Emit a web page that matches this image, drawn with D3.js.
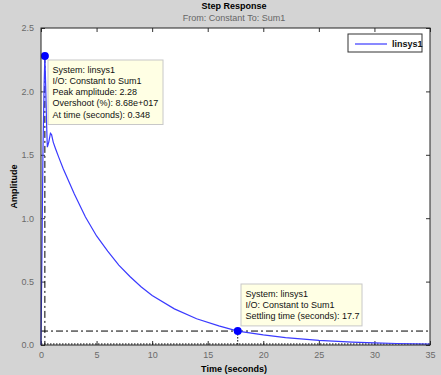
<!DOCTYPE html>
<html>
<head>
<meta charset="utf-8">
<script src="https://cdn.jsdelivr.net/npm/d3@7"></script>
<style>
  body { margin: 0; background: #d4d4d4; }
  svg { display: block; font-family: Arial, "Liberation Sans", sans-serif; }
</style>
</head>
<body>
<div id="chart"></div>
<script>
// Step response samples (time in s, amplitude)
const times = [0, 0.08, 0.18, 0.28, 0.348, 0.42, 0.5, 0.57, 0.7, 0.85, 0.95, 1.1, 1.3, 1.6, 2, 3, 4, 5, 6, 7, 8, 9, 10, 12, 14, 16, 17.7, 20, 22, 25, 28, 30, 32, 35];
const amplitude = [0, 0.7, 1.55, 2.05, 2.28, 2.05, 1.75, 1.56, 1.6, 1.67, 1.66, 1.6, 1.55, 1.48, 1.39, 1.19, 1.01, 0.86, 0.74, 0.63, 0.54, 0.46, 0.39, 0.285, 0.207, 0.151, 0.11, 0.08, 0.058, 0.036, 0.022, 0.016, 0.012, 0.007];
const xTicks = [0, 5, 10, 15, 20, 25, 30, 35];
const yTicks = [0, 0.5, 1, 1.5, 2, 2.5];
const peak = { time: 0.348, value: 2.28 };
const settle = { time: 17.7, value: 0.11 };
const peakLines = ["System: linsys1", "I/O: Constant to Sum1", "Peak amplitude: 2.28", "Overshoot (%): 8.68e+017", "At time (seconds): 0.348"];
const settleLines = ["System: linsys1", "I/O: Constant to Sum1", "Settling time (seconds): 17.7"];

const svgWidth = 441;
const svgHeight = 375;
const margin = { top: 28, right: 11, bottom: 30, left: 41 };
const chartWidth = svgWidth - margin.left - margin.right;
const chartHeight = svgHeight - margin.top - margin.bottom;

const svg = d3.select("#chart")
  .append("svg")
  .attr("width", svgWidth)
  .attr("height", svgHeight);

svg.append("rect")
  .attr("width", svgWidth)
  .attr("height", svgHeight)
  .attr("fill", "#d4d4d4");

const chart = svg.append("g")
  .attr("transform", `translate(${margin.left}, ${margin.top})`);

const xScale = d3.scaleLinear().domain([0, 35]).range([0, chartWidth]);
const yScale = d3.scaleLinear().domain([0, 2.5]).range([chartHeight, 0]);

// plot area
chart.append("rect")
  .attr("width", chartWidth)
  .attr("height", chartHeight)
  .attr("fill", "#fff");

// ticks on all four sides, pointing in
function styleAxis(g) {
  g.select(".domain").remove();
  g.selectAll(".tick line").attr("stroke", "#333");
  g.selectAll(".tick text").attr("fill", "#6a6a6a").attr("font-size", 9);
}
chart.append("g")
  .attr("transform", `translate(0, ${chartHeight})`)
  .call(d3.axisBottom(xScale).tickValues(xTicks).tickSize(-4).tickPadding(7))
  .call(styleAxis);
chart.append("g")
  .call(d3.axisTop(xScale).tickValues(xTicks).tickSize(-4).tickFormat(""))
  .call(styleAxis);
chart.append("g")
  .call(d3.axisLeft(yScale).tickValues(yTicks).tickSize(-4).tickPadding(7))
  .call(styleAxis);
chart.append("g")
  .attr("transform", `translate(${chartWidth}, 0)`)
  .call(d3.axisRight(yScale).tickValues(yTicks).tickSize(-4).tickFormat(""))
  .call(styleAxis);

// characteristic lines
chart.append("line")
  .attr("x1", 0).attr("x2", chartWidth)
  .attr("y1", yScale(0) - 1).attr("y2", yScale(0) - 1)
  .attr("stroke", "#000").attr("stroke-dasharray", "1.5,1.5");
chart.append("line")
  .attr("x1", 0).attr("x2", chartWidth)
  .attr("y1", yScale(settle.value)).attr("y2", yScale(settle.value))
  .attr("stroke", "#000").attr("stroke-dasharray", "7,3,2,3");
chart.append("line")
  .attr("x1", xScale(peak.time)).attr("x2", xScale(peak.time))
  .attr("y1", yScale(peak.value)).attr("y2", chartHeight)
  .attr("stroke", "#000").attr("stroke-dasharray", "7,3,2,3");
chart.append("line")
  .attr("x1", xScale(settle.time)).attr("x2", xScale(settle.time))
  .attr("y1", yScale(settle.value)).attr("y2", chartHeight)
  .attr("stroke", "#000").attr("stroke-dasharray", "1.5,1.5");

// response curve
const data = times.map((t, i) => ({ t, v: amplitude[i] }));
const line = d3.line()
  .x(d => xScale(d.t))
  .y(d => yScale(d.v));
chart.append("path")
  .datum(data)
  .attr("fill", "none")
  .attr("stroke", "#3a3aff")
  .attr("stroke-width", 1.2)
  .attr("d", line);

// markers
[peak, settle].forEach(p => {
  chart.append("circle")
    .attr("cx", xScale(p.time))
    .attr("cy", yScale(p.value))
    .attr("r", 4)
    .attr("fill", "#0000ff");
});

// frame
chart.append("rect")
  .attr("width", chartWidth)
  .attr("height", chartHeight)
  .attr("fill", "none")
  .attr("stroke", "#222");

// data tips
function dataTip(x, y, w, lines) {
  const g = svg.append("g").attr("transform", `translate(${x}, ${y})`);
  g.append("rect")
    .attr("width", w)
    .attr("height", lines.length * 11.3 + 8)
    .attr("fill", "#ffffe4")
    .attr("stroke", "#c8c8c8");
  lines.forEach((s, i) => {
    g.append("text")
      .attr("x", 4.5)
      .attr("y", 12.5 + i * 11.3)
      .attr("font-size", 9)
      .attr("fill", "#111")
      .text(s);
  });
}
dataTip(48, 60, 115, peakLines);
dataTip(241, 284, 121, settleLines);

// legend
const legend = svg.append("g").attr("transform", "translate(348, 34)");
legend.append("rect")
  .attr("width", 74).attr("height", 18)
  .attr("fill", "#fff").attr("stroke", "#333");
legend.append("line")
  .attr("x1", 7).attr("x2", 39).attr("y1", 10).attr("y2", 10)
  .attr("stroke", "#3a3aff").attr("stroke-width", 1.2);
legend.append("text")
  .attr("x", 44).attr("y", 13)
  .attr("font-size", 9).attr("font-weight", "bold").attr("fill", "#111")
  .text("linsys1");

// titles
svg.append("text")
  .attr("x", 234).attr("y", 9)
  .attr("text-anchor", "middle")
  .attr("font-size", 9).attr("font-weight", "bold")
  .text("Step Response");
svg.append("text")
  .attr("x", 234).attr("y", 21)
  .attr("text-anchor", "middle")
  .attr("font-size", 9).attr("fill", "#666")
  .text("From: Constant  To: Sum1");
svg.append("text")
  .attr("x", 234).attr("y", 372)
  .attr("text-anchor", "middle")
  .attr("font-size", 9).attr("font-weight", "bold")
  .text("Time (seconds)");
svg.append("text")
  .attr("transform", `translate(17, ${margin.top + chartHeight / 2}) rotate(-90)`)
  .attr("text-anchor", "middle")
  .attr("font-size", 9).attr("font-weight", "bold")
  .text("Amplitude");
</script>
</body>
</html>
